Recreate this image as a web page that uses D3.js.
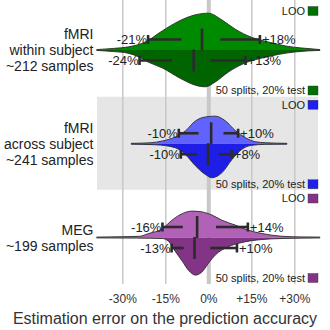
<!DOCTYPE html>
<html>
<head>
<meta charset="utf-8">
<script src="https://cdn.jsdelivr.net/npm/d3@7"></script>
<style>
  body { margin: 0; background: #fff; }
  svg { font-family: "Liberation Sans", Arial, sans-serif; }
</style>
</head>
<body>
<div id="canvas"></div>
<script>
// groups (rows), top to bottom
const groups = ['fmriWithin', 'fmriAcross', 'meg']
const groupLabels = [
  ['fMRI', 'within subject', '~212 samples'],
  ['fMRI', 'across subject', '~241 samples'],
  ['MEG', '~199 samples']
]
const legendLabels = ['LOO', '50 splits, 20% test']
const tickValues = [-30, -15, 0, 15, 30]
const xTitle = 'Estimation error on the prediction accuracy'

// half-violin densities (error in %, relative density)
const withinLooPct = [-39, -33, -27.7, -22, -16, -10.3, -4.5, 0, 4.8, 9.4, 15, 21, 27, 32.6, 39]
const withinLooDen = [0.01, 0.04, 0.08, 0.2, 0.48, 0.72, 0.88, 0.92, 0.75, 0.52, 0.32, 0.2, 0.1, 0.05, 0.01]
const withinSplitPct = [-39, -33, -28, -24, -21, -16, -10, -4.5, -1, 2.4, 7, 13, 18.7, 24.5, 30, 39]
const withinSplitDen = [0.01, 0.04, 0.08, 0.18, 0.3, 0.45, 0.7, 0.88, 0.92, 0.8, 0.55, 0.32, 0.2, 0.11, 0.05, 0.01]

const acrossLooPct = [-27, -20, -16, -11.5, -8, -4.5, -1, 2.4, 6, 9.4, 13, 16.4, 20, 27.5]
const acrossLooDen = [0.01, 0.025, 0.07, 0.17, 0.32, 0.57, 0.67, 0.69, 0.57, 0.33, 0.15, 0.05, 0.025, 0.01]
const acrossSplitPct = [-27, -18.5, -11.5, -8, -4.5, -1, 1.3, 4.8, 8.3, 11.7, 15, 20, 27.5]
const acrossSplitDen = [0.01, 0.025, 0.1, 0.27, 0.55, 0.77, 0.85, 0.72, 0.39, 0.14, 0.04, 0.015, 0.01]

const megLooPct = [-39, -30, -24, -20.8, -16, -12.7, -9, -5.7, -2.2, 1.3, 4.8, 9.4, 14, 18.7, 25.7, 32, 39]
const megLooDen = [0.01, 0.02, 0.03, 0.1, 0.22, 0.43, 0.6, 0.66, 0.64, 0.56, 0.43, 0.31, 0.18, 0.1, 0.03, 0.015, 0.01]
const megSplitPct = [-39, -25, -16, -13.8, -11.5, -9, -6.9, -4.5, -2.2, 0, 2.4, 7, 11.7, 18.7, 25.7, 39]
const megSplitDen = [0.01, 0.015, 0.025, 0.1, 0.35, 0.6, 0.82, 0.94, 0.86, 0.65, 0.44, 0.23, 0.125, 0.05, 0.025, 0.01]

// box stats per half: [low whisker, q1, median, q3, high whisker]
const withinLooStats = [-21, -9.4, -2.2, 4.2, 18]
const withinSplitStats = [-24, -12.7, -5.1, 0.7, 13]
const acrossLooStats = [-10.3, -3.4, 1, 5.3, 10.4]
const acrossSplitStats = [-9.6, -4, -0.1, 3.6, 8.2]
const megLooStats = [-16, -8.9, -3.9, 2.7, 13.8]
const megSplitStats = [-12.8, -8.6, -4.8, 0.7, 10]

const halves = [
  [[withinLooPct, withinLooDen, withinLooStats], [withinSplitPct, withinSplitDen, withinSplitStats]],
  [[acrossLooPct, acrossLooDen, acrossLooStats], [acrossSplitPct, acrossSplitDen, acrossSplitStats]],
  [[megLooPct, megLooDen, megLooStats], [megSplitPct, megSplitDen, megSplitStats]]
]

const fillColors = [['#008a00', '#006400'], ['#6262ff', '#1e1ee6'], ['#b262b6', '#843486']]
const legendColors = ['#007000', '#2020ee', '#843486']

const width = 330
const height = 330

const svg = d3.select('#canvas')
  .append('svg')
    .attr('width', width)
    .attr('height', height)

const x = d3.scaleLinear()
  .domain([-30, 30])
  .range([122.3, 294.3])

const y = d3.scalePoint()
  .domain(groups)
  .range([50, 237.5])

const w = d3.scaleLinear()
  .domain([0, 1])
  .range([0, 40])

// shaded background for the middle row
svg.append('rect')
  .attr('x', 97)
  .attr('y', y('fmriAcross') - 47)
  .attr('width', 221)
  .attr('height', 93)
  .attr('fill', '#e6e6e6')

// grid + axis
const axisBottom = 284
const xAxis = d3.axisBottom(x)
  .tickValues(tickValues)
  .tickSizeInner(-axisBottom)
  .tickSizeOuter(0)
  .tickPadding(10)
  .tickFormat(d => d > 0 ? `+${d}%` : `${d}%`)

const gAxis = svg.append('g')
  .attr('transform', `translate(0, ${axisBottom})`)
  .call(xAxis)
gAxis.select('.domain').remove()
gAxis.selectAll('.tick line')
  .attr('stroke', '#c8c8c8')
  .attr('stroke-width', d => d === 0 ? 4 : 1.5)
gAxis.selectAll('.tick text')
  .attr('fill', '#333')
  .attr('font-size', 12)

svg.append('text')
  .attr('x', width / 2)
  .attr('y', 324)
  .attr('text-anchor', 'middle')
  .attr('font-size', 16)
  .attr('fill', '#333')
  .text(xTitle)

// violins
groups.forEach((g, gi) => {
  const cy = y(g)
  const rowG = svg.append('g')

  halves[gi].forEach(([pct, den, stats], hi) => {
    const sign = hi === 0 ? -1 : 1
    const pts = pct.map((p, i) => [p, den[i]])

    const area = d3.area()
      .x(d => x(d[0]))
      .y0(cy)
      .y1(d => cy + sign * w(d[1]))
      .curve(d3.curveMonotoneX)
    const outline = d3.line()
      .x(d => x(d[0]))
      .y(d => cy + sign * w(d[1]))
      .curve(d3.curveMonotoneX)

    rowG.append('path')
      .datum(pts)
      .attr('d', area)
      .attr('fill', fillColors[gi][hi])
    rowG.append('path')
      .datum(pts)
      .attr('d', outline)
      .attr('fill', 'none')
      .attr('stroke', '#2a2a2a')
      .attr('stroke-width', 0.9)
  })

  // whiskers, caps, medians
  halves[gi].forEach(([pct, den, stats], hi) => {
    const sign = hi === 0 ? -1 : 1
    const wy = cy + sign * 10.5
    const [lo, q1, med, q3, hiV] = stats
    const col = '#2b2b2b'

    rowG.append('line')
      .attr('x1', x(lo)).attr('x2', x(q1))
      .attr('y1', wy).attr('y2', wy)
    rowG.append('line')
      .attr('x1', x(q3)).attr('x2', x(hiV))
      .attr('y1', wy).attr('y2', wy)
    ;[lo, hiV].forEach(v => {
      rowG.append('line')
        .attr('x1', x(v)).attr('x2', x(v))
        .attr('y1', wy - 4.5).attr('y2', wy + 4.5)
    })
    rowG.append('line')
      .attr('x1', x(med)).attr('x2', x(med))
      .attr('y1', wy - 11).attr('y2', wy + 11)
    rowG.selectAll('line')
      .attr('stroke', col)
      .attr('stroke-width', 2.6)

    rowG.append('text')
      .attr('x', x(lo) - 1)
      .attr('y', wy)
      .attr('dy', '0.36em')
      .attr('text-anchor', 'end')
      .attr('font-size', 13)
      .attr('fill', '#222')
      .text(`${Math.round(lo)}%`)
    rowG.append('text')
      .attr('x', x(hiV) + 2)
      .attr('y', wy)
      .attr('dy', '0.36em')
      .attr('font-size', 13)
      .attr('fill', '#222')
      .text(`+${Math.round(hiV)}%`)
  })

  // row labels
  const lines = groupLabels[gi]
  const lt = svg.append('text')
    .attr('text-anchor', 'end')
    .attr('font-size', 14)
    .attr('fill', '#222')
  lines.forEach((t, i) => {
    lt.append('tspan')
      .attr('x', 93.5)
      .attr('y', cy + (i - (lines.length - 1) / 2) * 16)
      .attr('dy', '0.36em')
      .text(t)
  })

  // legend entries
  legendLabels.forEach((t, i) => {
    const ly = i === 0 ? cy - 39 : cy + 40.5
    svg.append('text')
      .attr('x', 305)
      .attr('y', ly)
      .attr('dy', '0.36em')
      .attr('text-anchor', 'end')
      .attr('font-size', 11)
      .attr('fill', '#222')
      .text(t)
    svg.append('rect')
      .attr('x', 308)
      .attr('y', ly - 4.5)
      .attr('width', 10)
      .attr('height', 9)
      .attr('fill', legendColors[gi])
      .attr('stroke', '#333')
      .attr('stroke-width', 0.4)
  })
})
</script>
</body>
</html>
